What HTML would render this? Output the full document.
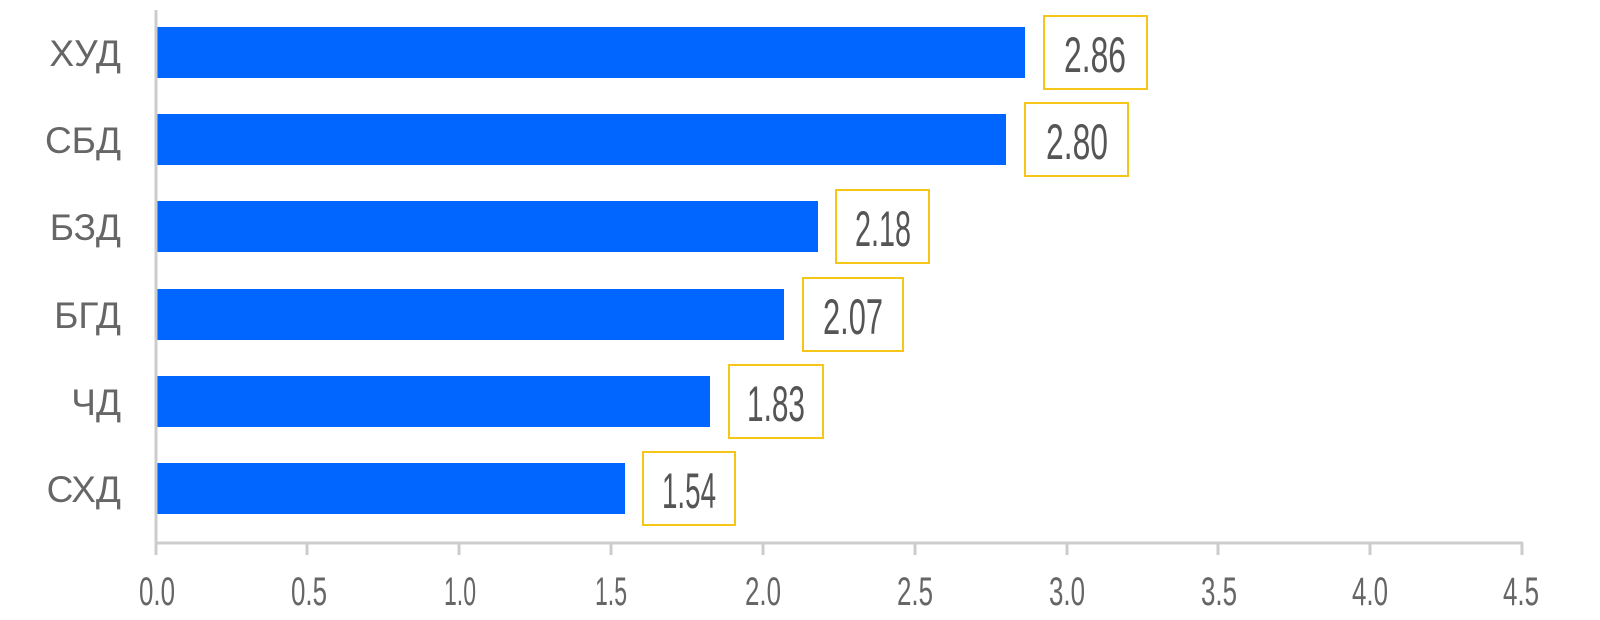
<!DOCTYPE html>
<html><head><meta charset="utf-8"><style>body{margin:0;background:#fff}svg{display:block}</style></head><body>
<svg width="1600" height="620" xmlns="http://www.w3.org/2000/svg">
<g fill="#0066ff">
<rect x="157" y="27" width="868" height="51"/>
<rect x="157" y="114" width="849" height="51"/>
<rect x="157" y="201" width="661" height="51"/>
<rect x="157" y="289" width="627" height="51"/>
<rect x="157" y="376" width="553" height="51"/>
<rect x="157" y="463" width="468" height="51"/>
</g>
<g fill="none" stroke="#cccccc" stroke-width="3">
<line x1="156" y1="10" x2="156" y2="545"/>
<line x1="155" y1="543" x2="1523" y2="543"/>
<line x1="156" y1="543" x2="156" y2="555"/><line x1="307" y1="543" x2="307" y2="555"/><line x1="459" y1="543" x2="459" y2="555"/><line x1="611" y1="543" x2="611" y2="555"/><line x1="763" y1="543" x2="763" y2="555"/><line x1="915" y1="543" x2="915" y2="555"/><line x1="1067" y1="543" x2="1067" y2="555"/><line x1="1218" y1="543" x2="1218" y2="555"/><line x1="1370" y1="543" x2="1370" y2="555"/><line x1="1522" y1="543" x2="1522" y2="555"/>
</g>
<g fill="#fff" stroke="#f5c518" stroke-width="2">
<rect x="1044" y="16" width="103" height="73"/>
<rect x="1025" y="103" width="103" height="73"/>
<rect x="836" y="190" width="93" height="73"/>
<rect x="803" y="278" width="100" height="73"/>
<rect x="729" y="365" width="94" height="73"/>
<rect x="643" y="452" width="92" height="73"/>
</g>
<g font-family="Liberation Sans, sans-serif" font-size="37" fill="#666" text-anchor="end">
<text x="121" y="66">ХУД</text><text x="121" y="153">СБД</text><text x="121" y="240">БЗД</text><text x="121" y="328">БГД</text><text x="121" y="415">ЧД</text><text x="121" y="502">СХД</text>
</g>
<g font-family="Liberation Sans Narrow, Liberation Sans, sans-serif" font-size="50" fill="#555" text-anchor="middle">
<text x="1095" y="72" textLength="62" lengthAdjust="spacingAndGlyphs">2.86</text>
<text x="1077" y="159" textLength="62" lengthAdjust="spacingAndGlyphs">2.80</text>
<text x="883" y="246" textLength="56" lengthAdjust="spacingAndGlyphs">2.18</text>
<text x="853" y="334" textLength="60" lengthAdjust="spacingAndGlyphs">2.07</text>
<text x="776" y="421" textLength="58" lengthAdjust="spacingAndGlyphs">1.83</text>
<text x="689" y="508" textLength="54" lengthAdjust="spacingAndGlyphs">1.54</text>
</g>
<g font-family="Liberation Sans Narrow, Liberation Sans, sans-serif" font-size="40" fill="#666" text-anchor="middle">
<text x="157" y="605" textLength="36" lengthAdjust="spacingAndGlyphs">0.0</text>
<text x="309" y="605" textLength="36" lengthAdjust="spacingAndGlyphs">0.5</text>
<text x="460" y="605" textLength="32" lengthAdjust="spacingAndGlyphs">1.0</text>
<text x="611" y="605" textLength="32" lengthAdjust="spacingAndGlyphs">1.5</text>
<text x="763" y="605" textLength="36" lengthAdjust="spacingAndGlyphs">2.0</text>
<text x="915" y="605" textLength="36" lengthAdjust="spacingAndGlyphs">2.5</text>
<text x="1067" y="605" textLength="36" lengthAdjust="spacingAndGlyphs">3.0</text>
<text x="1219" y="605" textLength="36" lengthAdjust="spacingAndGlyphs">3.5</text>
<text x="1370" y="605" textLength="36" lengthAdjust="spacingAndGlyphs">4.0</text>
<text x="1521" y="605" textLength="36" lengthAdjust="spacingAndGlyphs">4.5</text>
</g>
</svg>
</body></html>
